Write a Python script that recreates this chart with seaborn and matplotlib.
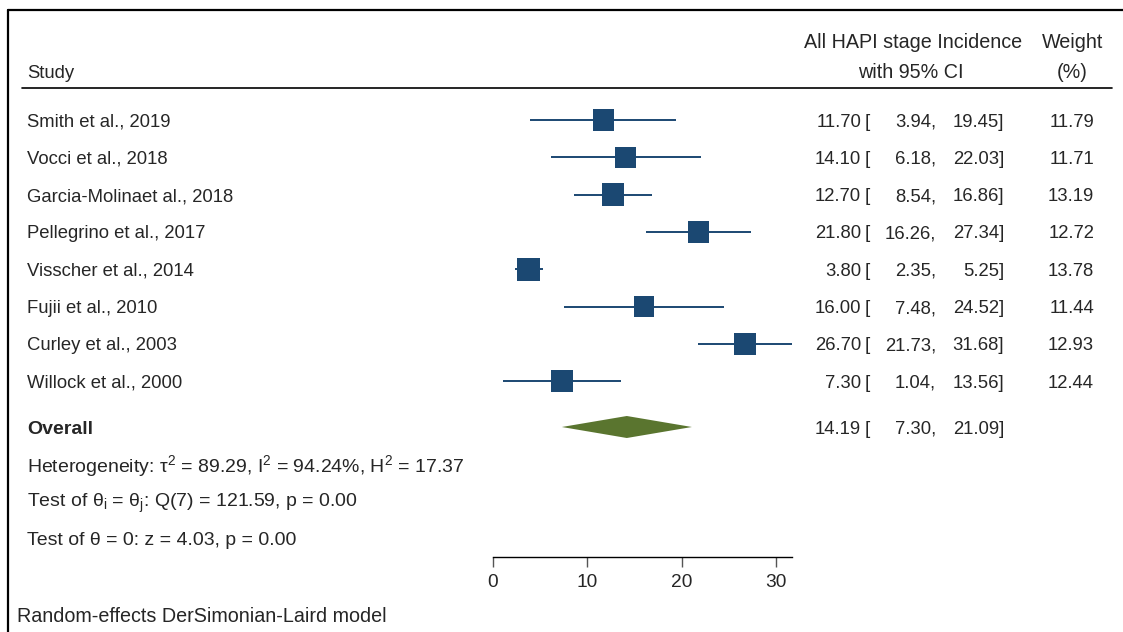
import numpy as np
import matplotlib
matplotlib.use("Agg")
import matplotlib.pyplot as plt
from matplotlib.lines import Line2D
import matplotlib.transforms as mtransforms
import seaborn as sns

# ---- study-level data ----
studies = [
    "Smith et al., 2019",
    "Vocci et al., 2018",
    "Garcia-Molinaet al., 2018",
    "Pellegrino et al., 2017",
    "Visscher et al., 2014",
    "Fujii et al., 2010",
    "Curley et al., 2003",
    "Willock et al., 2000",
]
estimate = [11.70, 14.10, 12.70, 21.80, 3.80, 16.00, 26.70, 7.30]
ci_low = [3.94, 6.18, 8.54, 16.26, 2.35, 7.48, 21.73, 1.04]
ci_high = [19.45, 22.03, 16.86, 27.34, 5.25, 24.52, 31.68, 13.56]
weight = [11.79, 11.71, 13.19, 12.72, 13.78, 11.44, 12.93, 12.44]

# ---- pooled estimate ----
overall_est = 14.19
overall_low = 7.30
overall_high = 21.09

x_ticks = [0, 10, 20, 30]
stat_lines = [
    r"Heterogeneity: $\mathregular{τ^2}$ = 89.29, $\mathregular{I^2}$ = 94.24%, $\mathregular{H^2}$ = 17.37",
    r"Test of $\mathregular{θ_i}$ = $\mathregular{θ_j}$: Q(7) = 121.59, p = 0.00",
    "Test of θ = 0: z = 4.03, p = 0.00",
]
footnote = "Random-effects DerSimonian-Laird model"

sns.set_style("white")
plt.rcParams["font.family"] = ["Liberation Sans", "DejaVu Sans"]
plt.rcParams["mathtext.fontset"] = "custom"
plt.rcParams["mathtext.rm"] = "Liberation Sans"
plt.rcParams["mathtext.it"] = "Liberation Sans:italic"
plt.rcParams["mathtext.bf"] = "Liberation Sans:bold"

W, H = 1123, 632
FS = 13.3        # study names / numeric columns
FS_HEAD = 14.2   # column headers
FS_STAT = 14.0   # heterogeneity and test lines
FS_NOTE = 14.2   # model footnote
BLUE = "#1b4872"
GREEN = "#5a752f"

fig = plt.figure(figsize=(W / 100, H / 100), dpi=100)


def fx(px):
    return px / W


def fy(py):
    return 1 - py / H


# forest panel geometry (pixels)
x0_px, px_per_unit = 493, 9.43
xmax = max(ci_high)
row0_px, row_step = 120, 37.3
top_px, bottom_px = 100, 557

ax = fig.add_axes([fx(x0_px), fy(bottom_px),
                   xmax * px_per_unit / W, (bottom_px - top_px) / H])
ymin = (bottom_px - row0_px) / row_step
ymax = (top_px - row0_px) / row_step
ax.set_xlim(0, xmax)
ax.set_ylim(ymin, ymax)

rows = np.arange(len(studies), dtype=float)
overall_row = (427 - row0_px) / row_step
stat_rows = [(py - row0_px) / row_step for py in (464, 501, 538)]

# confidence intervals
ax.hlines(rows, ci_low, ci_high, color=BLUE, lw=1.4, zorder=2)

# weighted squares (area proportional to weight)
k = 19.4
sns.scatterplot(x=estimate, y=rows, size=weight,
                sizes=(k * min(weight), k * max(weight)),
                size_norm=(min(weight), max(weight)),
                marker="s", color=BLUE, linewidth=0, legend=False,
                ax=ax, zorder=3)

# pooled diamond
half_h = 11 / row_step
ax.fill([overall_low, overall_est, overall_high, overall_est],
        [overall_row, overall_row - half_h, overall_row, overall_row + half_h],
        color=GREEN, lw=0, zorder=3)

# axis styling
for side in ("left", "right", "top"):
    ax.spines[side].set_visible(False)
ax.spines["bottom"].set_color("black")
ax.spines["bottom"].set_linewidth(1.0)
ax.set_xticks(x_ticks)
ax.set_xticklabels([str(t) for t in x_ticks], fontsize=FS + 0.5)
ax.set_yticks([])
ax.tick_params(axis="x", direction="out", length=7.5, width=1.0,
               color="#555555", pad=5, bottom=True)
ax.set_xlabel("")
ax.set_ylabel("")
ax.patch.set_alpha(0)

# text columns: x in figure coords, y in data rows (nudged 2 px down)
tr = mtransforms.offset_copy(
    mtransforms.blended_transform_factory(fig.transFigure, ax.transData),
    fig=fig, x=0, y=-2, units="dots")


def put(xpx, row, s, ha="left", size=FS, **kw):
    fig.text(fx(xpx), row, s, ha=ha, va="center", fontsize=size,
             transform=tr, **kw)


def ci_columns(row, est, lo, hi):
    put(861, row, f"{est:.2f}", ha="right")
    put(865, row, "[")
    put(936, row, f"{lo:.2f},", ha="right")
    put(1004, row, f"{hi:.2f}]", ha="right")


for r, name, e, lo, hi, w in zip(rows, studies, estimate, ci_low, ci_high, weight):
    put(27, r, name)
    ci_columns(r, e, lo, hi)
    put(1094, r, f"{w:.2f}", ha="right")

put(27, overall_row, "Overall", fontweight="bold", size=FS_STAT)
ci_columns(overall_row, overall_est, overall_low, overall_high)

for r, s in zip(stat_rows, stat_lines):
    put(27, r, s, size=FS_STAT)

# header
fig.text(fx(27), fy(73), "Study", ha="left", va="center", fontsize=FS)
fig.text(fx(913), fy(43), "All HAPI stage Incidence", ha="center", va="center", fontsize=FS_HEAD)
fig.text(fx(911), fy(73), "with 95% CI", ha="center", va="center", fontsize=FS_HEAD)
fig.text(fx(1073), fy(43), "Weight", ha="center", va="center", fontsize=FS_HEAD)
fig.text(fx(1072), fy(73), "(%)", ha="center", va="center", fontsize=FS_HEAD)
fig.add_artist(Line2D([fx(22), fx(1112)], [fy(88), fy(88)],
                      transform=fig.transFigure, color="black", lw=1.2))

# footnote
fig.text(fx(17), fy(616), footnote, ha="left", va="center", fontsize=FS_NOTE)

# outer frame (left and top edges)
fig.add_artist(Line2D([fx(8), fx(8)], [0, fy(10)], transform=fig.transFigure,
                      color="black", lw=1.6))
fig.add_artist(Line2D([fx(8), 1], [fy(10), fy(10)], transform=fig.transFigure,
                      color="black", lw=1.6))

fig.savefig("out.png", dpi=100, facecolor="white")
